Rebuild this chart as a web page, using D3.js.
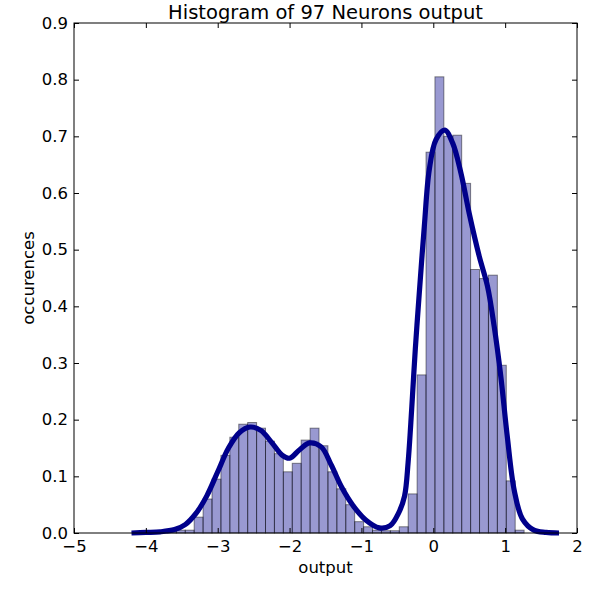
<!DOCTYPE html>
<html>
<head>
<meta charset="utf-8">
<script src="https://cdn.jsdelivr.net/npm/d3@7"></script>
<style>
  body { margin: 0; background: #fff; }
  text { font-family: "DejaVu Sans", sans-serif; }
</style>
</head>
<body>
<svg id="chart" width="600" height="600"></svg>
<script>
// histogram: 40 bins, normalised heights
var binStart = -3.70;
var binWidth = 0.1241;
var binHeights = [0.005, 0.005, 0.005, 0.028, 0.060, 0.095, 0.137, 0.169, 0.192, 0.195,
                  0.185, 0.162, 0.140, 0.108, 0.123, 0.164, 0.185, 0.154, 0.108, 0.078,
                  0.050, 0.020, 0.011, 0.005, 0.004, 0.004, 0.011, 0.069, 0.279, 0.672,
                  0.805, 0.700, 0.702, 0.617, 0.465, 0.449, 0.455, 0.296, 0.092, 0.005];

// kde curve, sampled by eye
var kdeX = [-4.20, -4.00, -3.80, -3.60, -3.45, -3.30, -3.15, -3.00, -2.85, -2.70,
            -2.55, -2.40, -2.25, -2.10, -2.00, -1.86, -1.72, -1.56, -1.42, -1.28,
            -1.12, -0.94, -0.75, -0.60, -0.48, -0.40, -0.35, -0.30, -0.25, -0.195,
            -0.125, -0.056, 0.037, 0.16, 0.27, 0.385, 0.50, 0.64, 0.755, 0.848,
            0.94, 1.03, 1.127, 1.24, 1.40, 1.57, 1.75];
var kdeY = [0.000, 0.001, 0.002, 0.006, 0.015, 0.035, 0.066, 0.108, 0.150, 0.177,
            0.187, 0.181, 0.160, 0.137, 0.132, 0.147, 0.159, 0.152, 0.120, 0.082,
            0.049, 0.023, 0.009, 0.013, 0.036, 0.065, 0.125, 0.220, 0.325, 0.423,
            0.541, 0.641, 0.694, 0.711, 0.688, 0.635, 0.564, 0.488, 0.435, 0.364,
            0.276, 0.170, 0.075, 0.025, 0.005, 0.001, 0.000];

var xTicks = [-5, -4, -3, -2, -1, 0, 1, 2];
var yTicks = [0, 0.1, 0.2, 0.3, 0.4, 0.5, 0.6, 0.7, 0.8, 0.9];

var margin = {top: 23, right: 23, bottom: 67, left: 74};
var W = 600, H = 600;
var w = W - margin.left - margin.right;
var h = H - margin.top - margin.bottom;

var svg = d3.select("#chart");
var g = svg.append("g").attr("transform", "translate(" + margin.left + "," + margin.top + ")");

var x = d3.scaleLinear().domain([-5, 2]).range([0, w]);
var y = d3.scaleLinear().domain([0, 0.9]).range([h, 0]);

// bars
g.selectAll("rect.bar")
  .data(binHeights)
  .enter().append("rect")
  .attr("class", "bar")
  .attr("x", (d, i) => x(binStart + i * binWidth))
  .attr("width", (d, i) => x(binStart + (i + 1) * binWidth) - x(binStart + i * binWidth))
  .attr("y", d => y(d))
  .attr("height", d => y(0) - y(d))
  .attr("fill", "#00008b")
  .attr("fill-opacity", 0.4)
  .attr("stroke", "#000")
  .attr("stroke-opacity", 0.45)
  .attr("stroke-width", 1);

// kde line
var pts = kdeX.map((v, i) => [v, kdeY[i]]);
var line = d3.line()
  .x(d => x(d[0]))
  .y(d => y(d[1]))
  .curve(d3.curveCatmullRom.alpha(0.5));
g.append("path")
  .datum(pts)
  .attr("d", line)
  .attr("fill", "none")
  .attr("stroke", "#00008b")
  .attr("stroke-width", 5.2)
  .attr("stroke-linejoin", "round");

// axes, ticks pointing inward on all four sides
var fmtY = d3.format(".1f");
var fmtX = d3.format("d");
var xb = g.append("g").attr("transform", "translate(0," + h + ")")
  .call(d3.axisBottom(x).tickValues(xTicks).tickFormat(fmtX).tickSize(-5).tickSizeOuter(0).tickPadding(7));
var xt = g.append("g")
  .call(d3.axisTop(x).tickValues(xTicks).tickFormat("").tickSize(-5).tickSizeOuter(0));
var yl = g.append("g")
  .call(d3.axisLeft(y).tickValues(yTicks).tickFormat(fmtY).tickSize(-5).tickSizeOuter(0).tickPadding(6));
var yr = g.append("g").attr("transform", "translate(" + w + ",0)")
  .call(d3.axisRight(y).tickValues(yTicks).tickFormat("").tickSize(-5).tickSizeOuter(0));

[xb, xt, yl, yr].forEach(a => {
  a.select(".domain").remove();
  a.selectAll(".tick line").attr("stroke", "#000");
  a.selectAll(".tick text").attr("fill", "#000").style("font-size", "16.5px")
    .style("font-family", "'DejaVu Sans', sans-serif");
});

// frame
g.append("rect")
  .attr("x", 0).attr("y", 0).attr("width", w).attr("height", h)
  .attr("fill", "none").attr("stroke", "#000").attr("stroke-width", 1);

// labels
svg.append("text")
  .attr("x", margin.left + w / 2).attr("y", 18.5)
  .attr("text-anchor", "middle")
  .style("font-size", "19.5px")
  .text("Histogram of 97 Neurons output");

svg.append("text")
  .attr("x", margin.left + w / 2).attr("y", 573)
  .attr("text-anchor", "middle")
  .style("font-size", "16.5px")
  .text("output");

svg.append("text")
  .attr("transform", "translate(34," + (margin.top + h / 2) + ") rotate(-90)")
  .attr("text-anchor", "middle")
  .style("font-size", "16.5px")
  .text("occurences");
</script>
</body>
</html>
